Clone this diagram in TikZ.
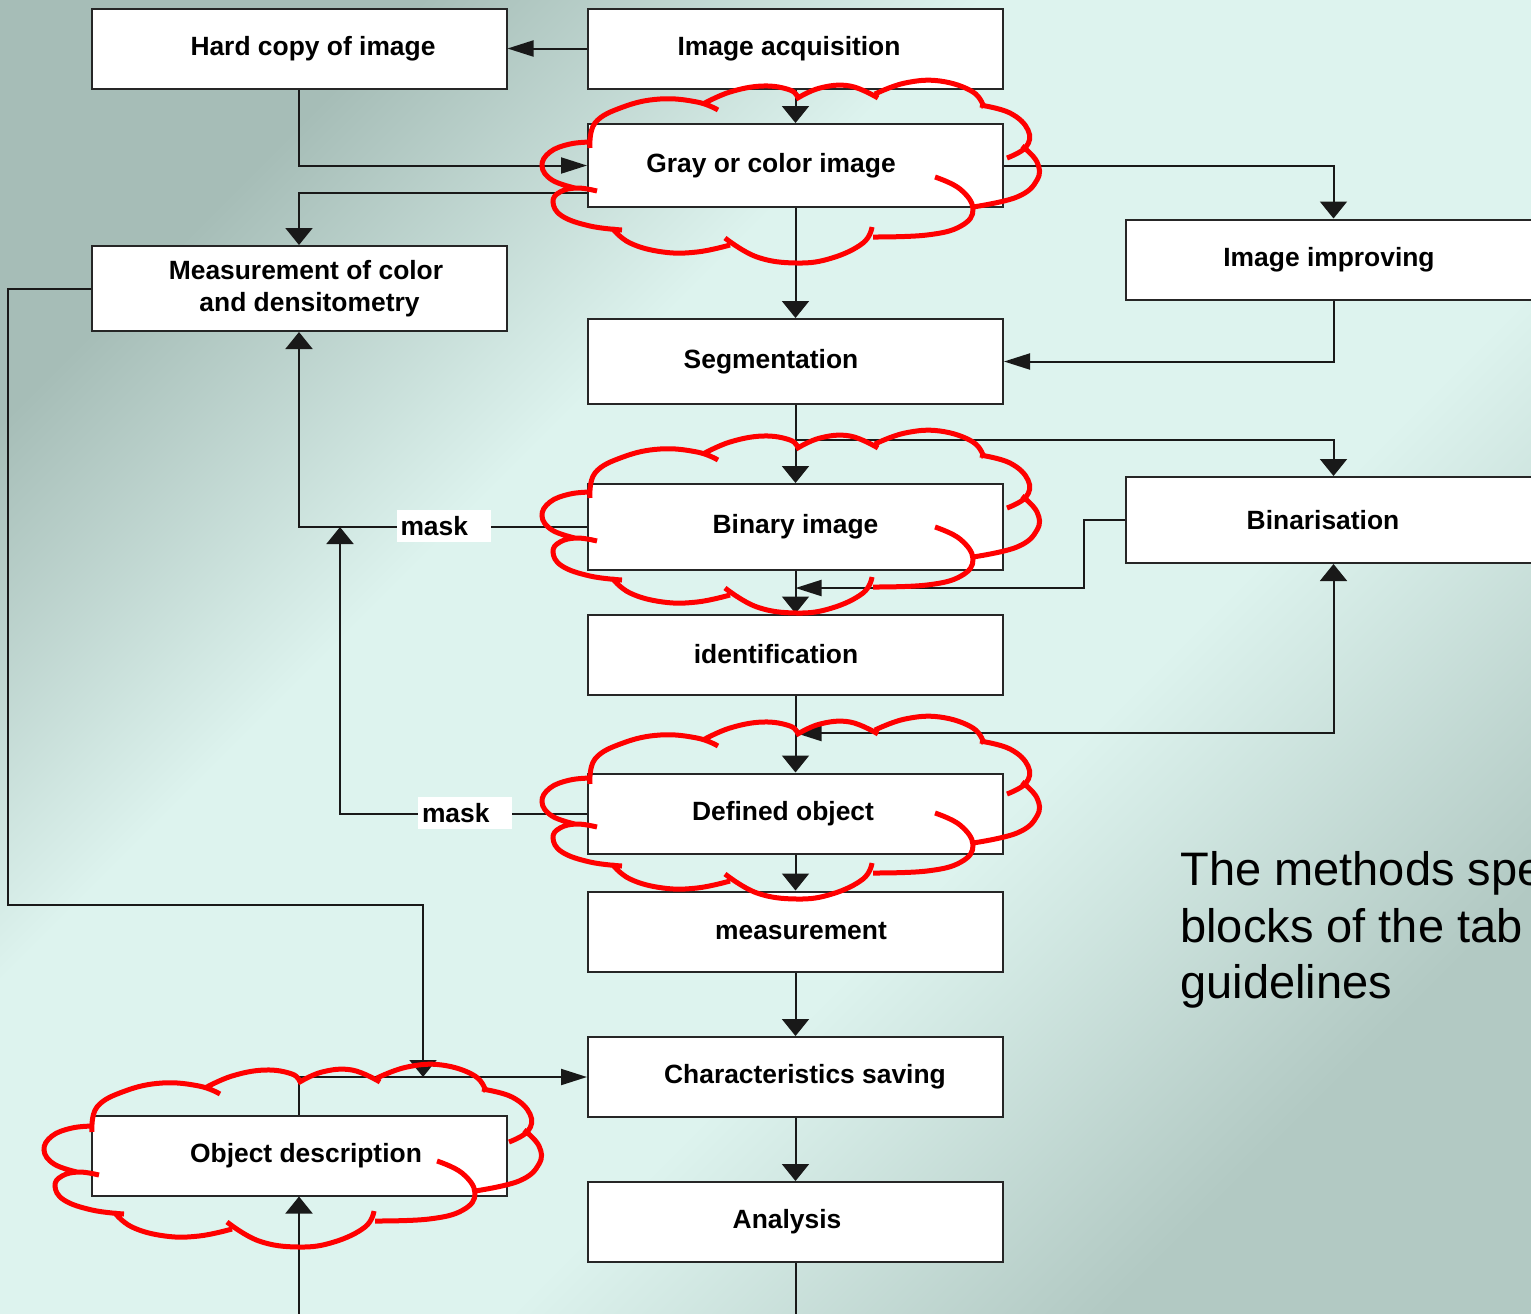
\documentclass[tikz,border=0pt]{standalone}
\usepackage{fontspec}
\setmainfont{Liberation Sans}
\usetikzlibrary{arrows.meta}
\definecolor{bgdark}{RGB}{166,189,183}
\definecolor{bglight}{RGB}{221,243,238}
\definecolor{bgfar}{RGB}{178,201,195}
\definecolor{cloudred}{RGB}{255,0,0}
\pgfdeclareverticalshading{bgdiag}{100bp}{color(0bp)=(bgfar); color(25bp)=(bgfar);
  color(40bp)=(bglight); color(61bp)=(bglight); color(75bp)=(bgdark); color(100bp)=(bgdark)}

\tikzset{
  vtip/.tip={Triangle[length=8.5pt,width=13.5pt]},
  htip/.tip={Triangle[length=13pt,width=8pt]},
  cloudline/.style={draw=cloudred, line width=2.5pt, smooth, tension=0.7},
  cloudring/.pic={
    \draw[cloudline]
      plot coordinates {(-200,-28) (-195,-53) (-167,-69) (-130,-77) (-93,-74) (-72,-66)}
      plot coordinates {(-87,-72) (-60,-84) (-27,-90) (0,-86) (8,-78)}
      plot coordinates {(6,-77) (30,-88) (60,-90) (88,-78)}
      plot coordinates {(85,-82) (115,-93) (150,-95) (183,-84) (194,-68)}
      plot coordinates {(190,-71) (220,-63) (238,-46) (236,-29) (217,-18)}
      plot coordinates {(232,-30) (247,-14) (247,4) (227,21) (183,31)}
      plot coordinates {(145,1) (170,13) (183,33) (171,50) (137,59) (83,61)}
      plot coordinates {(82,51) (73,67) (42,82) (7,87) (-33,81) (-65,62)}
      plot coordinates {(-60,69) (-93,76) (-127,76) (-160,67) (-178,52)}
      plot coordinates {(-168,54) (-200,50) (-228,40) (-237,26) (-230,16) (-213,12) (-193,15)}
      plot coordinates {(-215,12) (-238,4) (-248,-10) (-240,-24) (-220,-32) (-198,-34)};
  }
}

\begin{document}
\begin{tikzpicture}[
    x=0.5pt, y=-0.5pt,
    blockbox/.style={draw=black!85, fill=white, line width=1pt, minimum width=207.5pt,
      minimum height=40pt, inner sep=2pt, align=center,
      font=\fontsize{13.2}{16}\selectfont\bfseries},
    textshift/.style={execute at begin node={\hspace*{#1}}},
    flowline/.style={draw=black!90, line width=1pt},
    masklabel/.style={fill=white, inner xsep=2pt, inner ysep=0pt, text width=43pt,
      minimum height=16pt, align=left, font=\fontsize{13.2}{16}\selectfont\bfseries}
]
\useasboundingbox (0,0) rectangle (1531,1313);
\clip (0,0) rectangle (1531,1313);
\shade[shading=bgdiag, shading angle=45] (0,0) rectangle (1531,1313);

% blocks
\node[blockbox, textshift=14pt] (hardcopy) at (299,48.5) {Hard copy of image};
\node[blockbox, textshift=-6.5pt] (acquisition) at (795.5,48.5) {Image acquisition};
\node[blockbox, minimum height=41.5pt, textshift=-24.5pt] (gray) at (795.5,165.5) {Gray or color image};
\node[blockbox, minimum height=42.5pt, textshift=7pt] (colormeas) at (299,288.5) {Measurement of color\\\hspace*{3.5pt}and densitometry};
\node[blockbox, textshift=-4.5pt] (improving) at (1333.5,259.5) {Image improving};
\node[blockbox, minimum height=42.5pt, textshift=-24.5pt] (segmentation) at (795.5,361.5) {Segmentation};
\node[blockbox, minimum height=43pt] (binary) at (795.5,527) {Binary image};
\node[blockbox, minimum height=43pt, textshift=-10.5pt] (binarisation) at (1333.5,520) {Binarisation};
\node[blockbox, textshift=-19.5pt] (identification) at (795.5,654.5) {identification};
\node[blockbox, textshift=-12.5pt] (defined) at (795.5,813.5) {Defined object};
\node[blockbox, textshift=5.5pt] (measurement) at (795.5,931.5) {measurement};
\node[blockbox, textshift=9.5pt] (saving) at (795.5,1077) {Characteristics saving};
\node[blockbox, textshift=7pt] (objdesc) at (299,1155.5) {Object description};
\node[blockbox, textshift=-8.5pt] (analysis) at (795.5,1222) {Analysis};

% junctions on the lines
\coordinate (segsplit) at (795.5,440);
\coordinate (binback) at (795.5,588);
\coordinate (defback) at (795.5,733);
\coordinate (maskjoin) at (340,527);
\coordinate (descjoin) at (423,1077);
\coordinate (descin) at (299,1320);
\coordinate (analysisout) at (795.5,1320);

% connectors
\draw[flowline, -htip] (acquisition.west) -- (hardcopy.east);
\draw[flowline, -vtip] (acquisition) -- (gray);
\draw[flowline, -htip] (hardcopy.south) |- (gray.west);
\draw[flowline, -vtip] ([yshift=-13.5pt]gray.west) -| (colormeas.north);
\draw[flowline, -vtip] (gray.east) -| (improving.north);
\draw[flowline, -vtip] (gray) -- (segmentation);
\draw[flowline, -htip] (improving.south) |- (segmentation.east);
\draw[flowline, -vtip] (segmentation) -- (binary);
\draw[flowline, -vtip] (segsplit) -| (binarisation.north);
\draw[flowline, -vtip] (binary.west) -| (colormeas.south);
\draw[flowline, -htip] (binarisation.west) -- ++(-41,0) |- (binback);
\draw[flowline, -vtip] (binary) -- (identification);
\draw[flowline, -vtip] (identification) -- (defined);
\draw[flowline, htip-vtip] (defback) -| (binarisation.south);
\draw[flowline, -vtip] (defined.west) -| (maskjoin);
\draw[flowline, -vtip] (defined) -- (measurement);
\draw[flowline, -vtip] (colormeas.west) -- ++(-83,0) -- ++(0,616.5) -| (descjoin);
\draw[flowline, -htip] (objdesc.north) |- (saving.west);
\draw[flowline, -vtip] (measurement) -- (saving);
\draw[flowline, -vtip] (saving) -- (analysis);
\draw[flowline] (analysis) -- (analysisout);
\draw[flowline, -vtip] (descin) -- (objdesc);

% labels on the mask lines
\node[masklabel] (maskone) at (443.5,526) {mask};
\node[masklabel] (masktwo) at (465,813) {mask};

% red clouds
\pic at (790,176) {cloudring};
\pic at (790,526) {cloudring};
\pic at (790,812) {cloudring};
\pic at (292,1160) {cloudring};

\node[anchor=north west, align=left, inner sep=0pt, font=\fontsize{23.5}{28.3}\selectfont]
  (methods) at (1180,851) {The methods spe\\blocks of the tab\\guidelines};
\end{tikzpicture}
\end{document}
